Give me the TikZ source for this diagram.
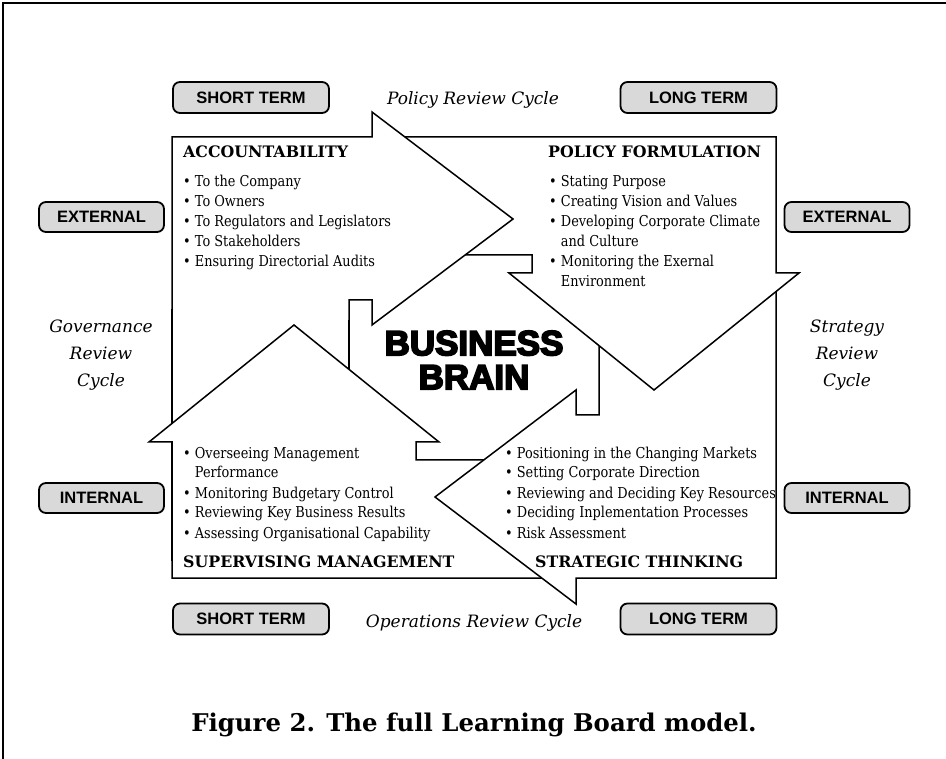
\documentclass[tikz,border=0pt]{standalone}
\usepackage{fontspec}
\setmainfont{DejaVu Serif}
\newfontfamily\itemfont{DejaVu Serif}[FakeStretch=0.86]
\newfontfamily\labelfont{Liberation Sans}
\newfontfamily\brainfont{Liberation Sans}[BoldFeatures={FakeBold=5}]

\definecolor{boxgray}{gray}{0.85}

\tikzset{
  panel/.style={draw=black, fill=white, line width=1.5pt, line join=miter},
  termbox/.style={draw=black, fill=boxgray, line width=1.8pt, rounded corners=7pt,
    minimum width=156pt, minimum height=31pt, inner sep=0pt,
    font=\labelfont\bfseries\fontsize{16.5}{18}\selectfont},
  sidebox/.style={termbox, minimum width=125pt, minimum height=30pt},
  areatitle/.style={anchor=base west, inner sep=0pt, font=\bfseries\fontsize{15.8}{18}\selectfont},
  item/.style={anchor=base west, inner sep=0pt, font=\itemfont\fontsize{15}{18}\selectfont},
  cyclelabel/.style={inner sep=0pt, font=\itshape\fontsize{17}{27}\selectfont, align=center},
}

\begin{document}
\begin{tikzpicture}[x=1pt, y=-1pt]
    \useasboundingbox (0,0) rectangle (946,759);
    \draw[line width=1.5pt] (3,759) -- (3,3) -- (946,3);

    % the four arrows, each one running under the next
    \draw[panel] (172,310) rectangle (349,560);
    \draw[panel] (294,325) -- (439,442) -- (416,442) -- (416,460) -- (600,460)
        -- (600,578) -- (172,578) -- (172,442) -- (149,442) -- cycle;
    \draw[panel] (435,497) -- (576,390) -- (576,415) -- (599,415) -- (599,260)
        -- (776,260) -- (776,578) -- (576,578) -- (576,604) -- cycle;
    \draw[panel] (200,137) -- (776,137) -- (776,273) -- (799,273) -- (654,390)
        -- (509,273) -- (532,273) -- (532,255) -- (200,255) -- cycle;
    \draw[panel] (172,320) -- (172,137) -- (372,137) -- (372,112) -- (513,219)
        -- (372,325) -- (372,300) -- (349,300) -- (349,320);

    % centre
    \node[font=\brainfont\bfseries\fontsize{35}{34}\selectfont, align=center, inner sep=0pt]
        (brain) at (474,360) {BUSINESS\\BRAIN};

    % area titles
    \node[areatitle] (acc) at (183,158) {ACCOUNTABILITY};
    \node[areatitle] (pol) at (548,158) {POLICY FORMULATION};
    \node[areatitle] (sup) at (183,567) {SUPERVISING MANAGEMENT};
    \node[areatitle] (str) at (535,567) {STRATEGIC THINKING};

    % bullet lists
    \foreach \t [count=\i] in {To the Company, To Owners, To Regulators and Legislators,
        To Stakeholders, Ensuring Directorial Audits}
        \node[item] (acc-\i) at (183,167+20*\i) {\textbullet\ \t};
    \foreach \t [count=\i] in {\textbullet\ Stating Purpose, \textbullet\ Creating Vision and Values,
        \textbullet\ Developing Corporate Climate, \hphantom{\textbullet\ }and Culture,
        \textbullet\ Monitoring the Exernal, \hphantom{\textbullet\ }Environment}
        \node[item] (pol-\i) at (549,167+20*\i) {\t};
    \foreach \t [count=\i] in {\textbullet\ Overseeing Management, \hphantom{\textbullet\ }Performance,
        \textbullet\ Monitoring Budgetary Control, \textbullet\ Reviewing Key Business Results,
        \textbullet\ Assessing Organisational Capability}
        \node[item] (sup-\i) at (183,438+20*\i) {\t};
    \foreach \t [count=\i] in {Positioning in the Changing Markets, Setting Corporate Direction,
        Reviewing and Deciding Key Resources, Deciding Inplementation Processes, Risk Assessment}
        \node[item] (str-\i) at (505,438+20*\i) {\textbullet\ \t};

    % time and scope boxes
    \node[termbox] (short-top) at (251,97.5) {SHORT TERM};
    \node[termbox] (long-top) at (698.5,97.5) {LONG TERM};
    \node[termbox] (short-bot) at (251,619) {SHORT TERM};
    \node[termbox] (long-bot) at (698.5,619) {LONG TERM};
    \node[sidebox] (ext-left) at (101.5,217) {EXTERNAL};
    \node[sidebox] (ext-right) at (847,217) {EXTERNAL};
    \node[sidebox] (int-left) at (101.5,498) {INTERNAL};
    \node[sidebox] (int-right) at (847,498) {INTERNAL};

    % review cycles
    \node[cyclelabel, anchor=base] (policy) at (473,105) {Policy Review Cycle};
    \node[cyclelabel, anchor=base] (operations) at (474,627) {Operations Review Cycle};
    \node[cyclelabel] (governance) at (101,355) {Governance\\Review\\Cycle};
    \node[cyclelabel] (strategy) at (847,355) {Strategy\\Review\\Cycle};

    \node[anchor=base, inner sep=0pt, font=\bfseries\fontsize{24.4}{28}\selectfont]
        (caption) at (474,731) {Figure 2. The full Learning Board model.};
\end{tikzpicture}
\end{document}
